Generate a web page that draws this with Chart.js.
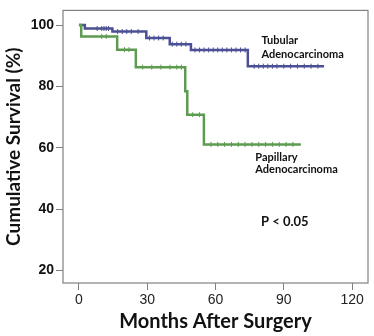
<!DOCTYPE html>
<html>
<head>
<meta charset="utf-8">
<script src="https://cdn.jsdelivr.net/npm/chart.js@4"></script>
<style>
  html, body { margin: 0; padding: 0; background: #fff; }
  #wrap { width: 374px; height: 336px; }
</style>
</head>
<body>
<div id="wrap"><canvas id="km"></canvas></div>
<script>
// Kaplan-Meier steps (months, % surviving)
const tubularMonths = [0, 2.6, 14.7, 29.6, 39.9, 49.2, 74.2, 107.7];
const tubularSurv = [100, 98.9, 97.9, 95.8, 93.8, 91.9, 86.6, 86.6];
const tubularCensored = [8, 10, 11, 12, 13, 17, 19, 21, 23, 26, 31, 33, 35, 37, 41, 43, 45, 47,
    51, 53, 55, 57, 59, 61, 63, 65, 67, 69, 71, 73, 77, 79, 81, 83, 85, 87, 90, 93, 96, 99, 102, 105];

const papillaryMonths = [0, 1, 16.8, 25, 46.7, 47.6, 54.9, 97.5];
const papillarySurv = [100, 96.3, 92.0, 86.3, 78.4, 70.8, 61.1, 61.1];
const papillaryCensored = [10, 12, 20, 22, 28, 32, 36, 40, 43, 45, 50, 53,
    58, 61, 64, 67, 70, 73, 76, 79, 82, 85, 88, 91, 94];

const xTicks = [0, 30, 60, 90, 120];
const yTicks = [20, 40, 60, 80, 100];

const blue = '#4b4f94';
const green = '#5c9b50';

function steps(months, surv) {
    return months.map((m, i) => ({ x: m, y: surv[i] }));
}
// censored subjects sit on the curve level at their time
function censorPoints(times, months, surv) {
    return times.map(t => {
        let level = surv[0];
        for (let i = 0; i < months.length; i++) {
            if (months[i] <= t) level = surv[i];
        }
        return { x: t, y: level };
    });
}

const labels_plugin = {
    id: 'labels_plugin',
    afterDraw(chart) {
        const { ctx, chartArea, scales } = chart;
        const x = scales.x, y = scales.y;
        ctx.save();
        ctx.strokeStyle = '#808080';
        ctx.lineWidth = 1.2;
        ctx.strokeRect(chartArea.left, chartArea.top, chartArea.right - chartArea.left, chartArea.bottom - chartArea.top);

        ctx.fillStyle = '#111';
        ctx.textBaseline = 'middle';
        ctx.textAlign = 'left';
        ctx.font = 'bold 11px Lato';
        ctx.fillText('Tubular', x.getPixelForValue(80.2), y.getPixelForValue(94.9));
        ctx.fillText('Adenocarcinoma', x.getPixelForValue(80.2), y.getPixelForValue(90.4));
        ctx.fillText('Papillary', x.getPixelForValue(77.5), y.getPixelForValue(56.7));
        ctx.fillText('Adenocarcinoma', x.getPixelForValue(77.5), y.getPixelForValue(52.8));
        ctx.font = 'bold 13px Lato';
        ctx.fillText('P < 0.05', x.getPixelForValue(80), y.getPixelForValue(35.9));
        ctx.restore();
    },
};

const ctx = document.getElementById('km').getContext('2d');

new Chart(ctx, {
    type: 'line',
    data: {
        datasets: [
            {
                data: steps(papillaryMonths, papillarySurv),
                borderColor: green,
                borderWidth: 2.5,
                stepped: true,
                pointRadius: 0,
                fill: false,
            },
            {
                data: steps(tubularMonths, tubularSurv),
                borderColor: blue,
                borderWidth: 2.5,
                stepped: true,
                pointRadius: 0,
                fill: false,
            },
            {
                data: censorPoints(papillaryCensored, papillaryMonths, papillarySurv),
                showLine: false,
                pointStyle: 'line',
                rotation: 90,
                pointRadius: 2.5,
                borderColor: green,
                pointBorderWidth: 1,
            },
            {
                data: censorPoints(tubularCensored, tubularMonths, tubularSurv),
                showLine: false,
                pointStyle: 'line',
                rotation: 90,
                pointRadius: 2.5,
                borderColor: blue,
                pointBorderWidth: 1,
            },
        ],
    },
    options: {
        responsive: true,
        maintainAspectRatio: false,
        animation: false,
        layout: { padding: { top: 4, right: 6, left: 0, bottom: 0 } },
        plugins: {
            legend: { display: false },
            tooltip: { enabled: false },
        },
        scales: {
            x: {
                type: 'linear',
                min: -7,
                max: 127,
                afterBuildTicks(scale) { scale.ticks = xTicks.map(v => ({ value: v })); },
                afterFit(scale) { scale.height = 53; },
                grid: { drawOnChartArea: false, drawTicks: true, tickLength: 7, color: '#808080' },
                border: { display: false },
                ticks: { color: '#222', font: { family: 'Liberation Sans', size: 14 }, padding: 2 },
                title: {
                    display: true,
                    text: 'Months After Surgery',
                    color: '#111',
                    font: { family: 'Lato', size: 20, weight: 'bold' },
                    padding: { top: 0, bottom: 2 },
                },
            },
            y: {
                min: 15.9,
                max: 104.8,
                afterBuildTicks(scale) { scale.ticks = yTicks.map(v => ({ value: v })); },
                afterFit(scale) { scale.width = 63; },
                grid: { drawOnChartArea: false, drawTicks: true, tickLength: 7, color: '#808080' },
                border: { display: false },
                ticks: { color: '#111', font: { family: 'Liberation Sans', size: 14, weight: 'bold' }, padding: 2 },
                title: {
                    display: true,
                    text: 'Cumulative Survival (%)',
                    color: '#111',
                    font: { family: 'Lato', size: 19, weight: 'bold' },
                    padding: { top: 2, bottom: 4 },
                },
            },
        },
    },
    plugins: [labels_plugin],
});
</script>
</body>
</html>
